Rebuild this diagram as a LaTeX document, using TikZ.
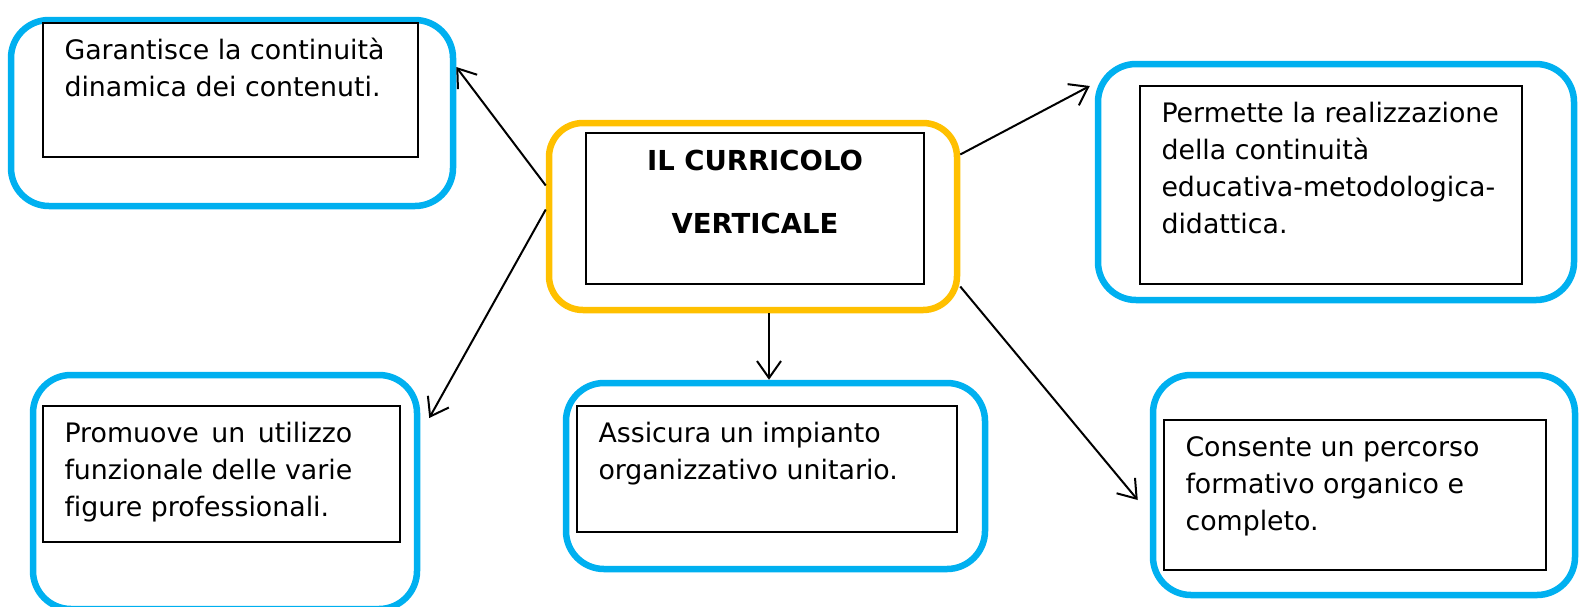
\documentclass[tikz,border=0pt]{standalone}
\usepackage{fontspec}
\setmainfont[Ligatures=NoCommon]{DejaVu Sans}
\usepackage{calc}
\usetikzlibrary{arrows.meta}
\definecolor{boxblue}{RGB}{0,176,240}
\definecolor{boxorange}{RGB}{255,192,0}

\begin{document}
\begin{tikzpicture}[x=1pt, y=-1pt, %%% y runs downwards, one unit = one pixel of the layout
    outerbox/.style={draw=boxblue, line width=6.5pt, rounded corners=38pt},
    centrebox/.style={draw=boxorange, line width=6.5pt, rounded corners=34pt},
    innerbox/.style={draw=black, line width=1.4pt},
    boxtext/.style={anchor=north west, inner sep=0pt, align=left, font=\fontsize{26.8}{37}\selectfont},
    link/.style={-{Straight Barb[length=17pt,width=24pt]}, line width=2pt}]
      \useasboundingbox (0,0) rectangle (1582,606);

      %%% outer rounded frames
      \node[centrebox, minimum width=408pt, minimum height=187pt] (ctr) at (753,216.5) {};
      \node[outerbox, minimum width=442pt, minimum height=186pt] (bA) at (232,113) {};
      \node[outerbox, minimum width=476pt, minimum height=236pt] (bB) at (1336,182) {};
      \node[outerbox, minimum width=384pt, minimum height=234pt] (bC) at (225,492) {};
      \node[outerbox, minimum width=419pt, minimum height=186pt] (bD) at (775.5,476) {};
      \node[outerbox, minimum width=422pt, minimum height=220pt] (bE) at (1364,485) {};

      %%% inner plain rectangles
      \node[innerbox, minimum width=338pt, minimum height=151pt] (inCtr) at (755,208.5) {};
      \node[innerbox, minimum width=375pt, minimum height=134pt] (inA) at (230.5,90) {};
      \node[innerbox, minimum width=382pt, minimum height=198pt] (inB) at (1331,185) {};
      \node[innerbox, minimum width=357pt, minimum height=136pt] (inC) at (221.5,474) {};
      \node[innerbox, minimum width=380pt, minimum height=126pt] (inD) at (767,469) {};
      \node[innerbox, minimum width=382pt, minimum height=150pt] (inE) at (1355,495) {};

      %%% texts
      \node[boxtext, anchor=north, align=center, font=\fontsize{27.5}{37}\selectfont\bfseries] (tCtr) at ([yshift=-12pt]inCtr.north) {\strut IL CURRICOLO\\[26pt]VERTICALE};
      \node[boxtext] (tA) at ([shift={(22,11)}]inA.north west) {\strut Garantisce la continuità\\dinamica dei contenuti.};
      \node[boxtext] (tB) at ([shift={(22,11)}]inB.north west) {\strut Permette la realizzazione\\della continuità\\educativa-metodologica-\\didattica.};
      \node[boxtext] (tC) at ([shift={(22,11)}]inC.north west) {\strut\makebox[\widthof{funzionale delle varie}][s]{Promuove un utilizzo}\\funzionale delle varie\\figure professionali.};
      \node[boxtext] (tD) at ([shift={(22,11)}]inD.north west) {\strut Assicura un impianto\\organizzativo unitario.};
      \node[boxtext] (tE) at ([shift={(22,11)}]inE.north west) {\strut Consente un percorso\\formativo organico e\\completo.};

      %%% arrows out of the centre frame
      \coordinate (cS) at ([xshift=16pt]ctr.south);
      \draw[link] ([yshift=31pt]ctr.west) -- ([yshift=46pt]bA.east);
      \draw[link] ([yshift=7pt]ctr.west) -- ([shift={(9pt,74pt)}]bC.east);
      \draw[link] (cS) -- (cS |- bD.north);
      \draw[link] ([yshift=62pt]ctr.east) -- ([shift={(-5pt,96pt)}]bB.west);
      \draw[link] ([yshift=-70pt]ctr.east) -- ([shift={(-12pt,-15pt)}]bE.west);
\end{tikzpicture}
\end{document}
